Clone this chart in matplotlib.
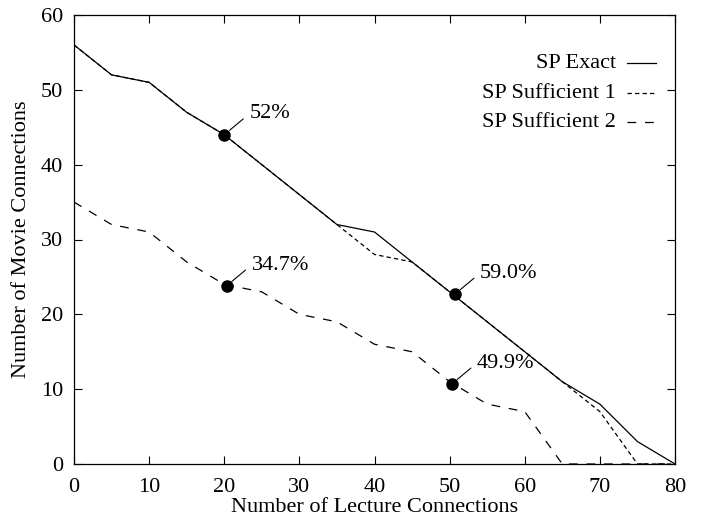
import matplotlib
matplotlib.use('Agg')
import matplotlib.pyplot as plt
from matplotlib.lines import Line2D

# --- DATA ---
lecture = [0, 5, 10, 15, 20, 25, 30, 35, 40, 45, 50, 55, 60, 65, 70, 75, 80]
sp_exact = [56, 52, 51, 47, 44, 40, 36, 32, 31, 27, 23, 19, 15, 11, 8, 3, 0]
sp_suff1 = [56, 52, 51, 47, 44, 40, 36, 32, 28, 27, 23, 19, 15, 11, 7, 0, 0]
sp_suff2 = [35, 32, 31, 27, 24, 23, 20, 19, 16, 15, 11, 8, 7, 0, 0, 0, 0]

point_x = [20, 50.7, 20.3, 50.3]
point_y = [44, 22.7, 23.8, 10.7]
point_labels = ['52%', '59.0%', '34.7%', '49.9%']

series_names = ['SP Exact', 'SP Sufficient 1', 'SP Sufficient 2']

plt.rcParams['font.family'] = ['Liberation Serif', 'DejaVu Serif']
FS = 16

fig = plt.figure(figsize=(7.02, 5.17), dpi=100)
ax = fig.add_axes([74 / 702, 53 / 517, 601 / 702, 449 / 517])

styles = [
    dict(linestyle='-'),
    dict(linestyle=(0, (3.5, 2.5))),
    dict(linestyle=(0, (7, 7))),
]
lw = 0.9

# dashed ones first so the solid line sits on top where they overlap
ax.plot(lecture, sp_suff2, color='black', lw=lw, **styles[2])
ax.plot(lecture, sp_suff1, color='black', lw=lw, **styles[1])
ax.plot(lecture, sp_exact, color='black', lw=lw, **styles[0])

ax.plot(point_x, point_y, 'o', color='black', markersize=8, zorder=5)
for px, py, lab in zip(point_x, point_y, point_labels):
    ax.annotate(lab, xy=(px, py), xytext=(18, 15), textcoords='offset points',
                ha='left', va='center', fontsize=FS,
                arrowprops=dict(arrowstyle='-', color='black', lw=0.8,
                                relpos=(0, 0.5), shrinkA=3, shrinkB=5))

# gnuplot-style key: right aligned text with line sample on the right
key_y = [0.893, 0.826, 0.761]
for name, st, yy in zip(series_names, styles, key_y):
    ax.text(0.902, yy, name, transform=ax.transAxes, ha='right', va='center', fontsize=FS)
    ax.add_line(Line2D([0.92, 0.968], [yy, yy], transform=ax.transAxes,
                       color='black', lw=lw, **st))

ax.set_xlim(0, 80)
ax.set_ylim(0, 60)
ax.set_xticks(range(0, 81, 10))
ax.set_yticks(range(0, 61, 10))
ax.tick_params(direction='in', length=6, width=0.8, top=True, right=True,
               labelsize=FS)
ax.tick_params(axis='x', pad=10)
ax.tick_params(axis='y', pad=8)
for sp in ax.spines.values():
    sp.set_linewidth(0.9)

ax.set_xlabel('Number of Lecture Connections', fontsize=FS, labelpad=1)
ax.set_ylabel('Number of Movie Connections', fontsize=FS, labelpad=7)

fig.savefig('out.png', dpi=100)
